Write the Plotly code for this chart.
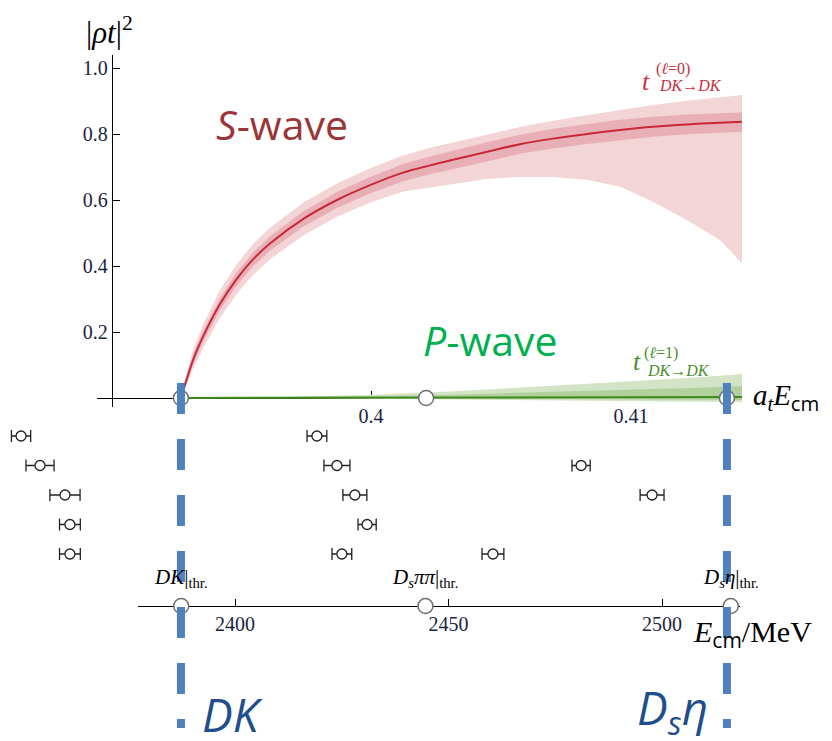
import plotly.graph_objects as go

# ---------------- data ----------------
# S-wave |rho t|^2 vs a_t E_cm
s_x = [0.392692, 0.392808, 0.393154, 0.393538, 0.394192, 0.394846, 0.395462, 0.396115,
       0.397385, 0.398692, 0.399962, 0.401231, 0.402269, 0.403154, 0.404462, 0.405731,
       0.407000, 0.408308, 0.409577, 0.410846, 0.412154, 0.413423, 0.414269]
s_c = [0, 0.03, 0.115, 0.186, 0.285, 0.362, 0.420, 0.468, 0.542, 0.600, 0.645, 0.683,
       0.705, 0.722, 0.746, 0.769, 0.786, 0.800, 0.812, 0.822, 0.829, 0.834, 0.837]
s_out_hi = [0, 0.045, 0.145, 0.222, 0.327, 0.407, 0.467, 0.516, 0.592, 0.650, 0.696, 0.735,
            0.758, 0.775, 0.798, 0.821, 0.840, 0.857, 0.873, 0.888, 0.901, 0.911, 0.918]
s_out_lo = [0, 0.018, 0.088, 0.150, 0.243, 0.317, 0.373, 0.420, 0.492, 0.549, 0.592, 0.626,
            0.640, 0.649, 0.664, 0.670, 0.670, 0.661, 0.640, 0.595, 0.539, 0.479, 0.408]
s_in_hi = [0, 0.037, 0.130, 0.202, 0.303, 0.382, 0.441, 0.490, 0.565, 0.624, 0.670, 0.709,
           0.732, 0.750, 0.775, 0.798, 0.816, 0.830, 0.843, 0.852, 0.859, 0.863, 0.865]
s_in_lo = [0, 0.024, 0.100, 0.170, 0.267, 0.342, 0.399, 0.446, 0.519, 0.576, 0.620, 0.657,
           0.678, 0.694, 0.717, 0.740, 0.756, 0.770, 0.782, 0.792, 0.799, 0.804, 0.807]

# P-wave
p_x = [0.392692, 0.397269, 0.400000, 0.403038, 0.406115, 0.410000, 0.412654, 0.414269]
p_c = [0, 0.0005, 0.001, 0.0015, 0.002, 0.0025, 0.003, 0.003]
p_out_hi = [0, 0.004, 0.010, 0.020, 0.033, 0.050, 0.063, 0.073]
p_out_lo = [0, -0.001, -0.003, -0.005, -0.007, -0.009, -0.011, -0.012]
p_in_hi = [0, 0.002, 0.005, 0.010, 0.016, 0.025, 0.031, 0.036]
p_in_lo = [0, 0, -0.001, -0.002, -0.003, -0.004, -0.005, -0.006]

# thresholds
thr_labels = ["<i>DK</i>|<sub>thr.</sub>", "<i>D<sub>s</sub>ππ</i>|<sub>thr.</sub>", "<i>D<sub>s</sub>η</i>|<sub>thr.</sub>"]
thr_at = [0.39269, 0.40212, 0.41369]
thr_mev = [2387.4, 2444.6, 2516.1]

# finite-volume levels (rows), a_t E and error
lev_row = [1, 1, 2, 2, 2, 3, 3, 3, 4, 4, 5, 5, 5]
lev_x = [0.38654, 0.39792, 0.38727, 0.39869, 0.40808, 0.38823, 0.39938, 0.41081,
         0.38842, 0.39985, 0.38842, 0.39888, 0.40469]
lev_err = [0.00037, 0.00038, 0.00054, 0.00050, 0.00035, 0.00058, 0.00046, 0.00046,
           0.00040, 0.00035, 0.00040, 0.00038, 0.00042]

y_ticks = [0.2, 0.4, 0.6, 0.8, 1.0]
x_ticks = [0.4, 0.41]
mev_ticks = [2400, 2450, 2500]

# ---------------- geometry helpers (pixels -> paper) ----------------
W, H = 832, 741
def px(x):
    return x / W
def py(y):
    return (H - y) / H
def a_of(pxv):
    return 0.4 + (pxv - 371) / 26000.0

SERIF = "Liberation Serif, Times New Roman, serif"
SANS = "Open Sans, sans-serif"
TICKC = "#1c2340"

fig = go.Figure()

def band(x, lo, hi, color, xa="x", ya="y"):
    fig.add_trace(go.Scatter(x=list(x) + list(x)[::-1], y=list(hi) + list(lo)[::-1],
                             fill="toself", fillcolor=color, line=dict(width=0),
                             mode="lines", hoverinfo="skip", showlegend=False,
                             xaxis=xa, yaxis=ya))

band(s_x, s_out_lo, s_out_hi, "#f3d5d8")
band(s_x, s_in_lo, s_in_hi, "#e8b0b6")
fig.add_trace(go.Scatter(x=s_x, y=s_c, mode="lines", line=dict(color="#c8283a", width=2),
                         line_shape="spline", showlegend=False))
band(p_x, p_out_lo, p_out_hi, "#d3e4c6")
band(p_x, p_in_lo, p_in_hi, "#b2d09e")
fig.add_trace(go.Scatter(x=p_x, y=p_c, mode="lines", line=dict(color="#3f8a1f", width=2),
                         showlegend=False))

# threshold circles on top axis
fig.add_trace(go.Scatter(x=thr_at, y=[0, 0, 0], mode="markers", cliponaxis=False,
                         marker=dict(size=15, color="white", line=dict(color="#6e6e6e", width=1.5)),
                         showlegend=False))

# levels
fig.add_trace(go.Scatter(x=lev_x, y=lev_row, mode="markers", xaxis="x3", yaxis="y2",
                         marker=dict(size=10, color="white", line=dict(color="#222", width=1.3)),
                         error_x=dict(type="data", array=lev_err, color="#222", thickness=1.3, width=6),
                         cliponaxis=False, showlegend=False))

# threshold circles on MeV axis
fig.add_trace(go.Scatter(x=thr_mev, y=[0, 0, 0], mode="markers", xaxis="x2", yaxis="y3",
                         cliponaxis=False,
                         marker=dict(size=15, color="white", line=dict(color="#6e6e6e", width=1.5)),
                         showlegend=False))

tickfont = dict(family=SERIF, size=20, color=TICKC)
fig.update_layout(
    width=W, height=H, margin=dict(l=0, r=0, t=0, b=0), autosize=False,
    paper_bgcolor="white", plot_bgcolor="rgba(0,0,0,0)",
    xaxis=dict(domain=[px(97), px(742)], range=[a_of(97), a_of(742)], anchor="free",
               position=py(398), showline=True, linecolor="black", linewidth=1.3,
               ticks="inside", ticklen=7, tickcolor="black", tickvals=x_ticks,
               ticktext=["0.4", "0.41"], tickfont=tickfont, showgrid=False, zeroline=False,
               layer="below traces"),
    yaxis=dict(domain=[py(407), py(55)], range=[(398 - 407) / 330.0, (398 - 55) / 330.0],
               anchor="free", position=px(112), showline=True, linecolor="black",
               linewidth=1.3, ticks="inside", ticklen=7, tickcolor="black",
               tickvals=y_ticks, ticktext=["0.2", "0.4", "0.6", "0.8", "1.0"],
               tickfont=tickfont, showgrid=False, zeroline=False, layer="below traces"),
    xaxis2=dict(domain=[px(138), px(740)], range=[2400 - 97 / 4.27, 2400 + 505 / 4.27],
                anchor="y3", showline=True, linecolor="black", linewidth=1.3,
                ticks="inside", ticklen=7, tickcolor="black", tickvals=mev_ticks,
                tickfont=tickfont, showgrid=False, zeroline=False, layer="below traces"),
    yaxis3=dict(domain=[py(606), py(596)], range=[0, 1], visible=False, anchor="x2"),
    xaxis3=dict(domain=[0, 1], range=[a_of(0), a_of(832)], visible=False, anchor="y2"),
    yaxis2=dict(domain=[py(570), py(420)], range=[1 + 134 / 29.5, 1 - 16 / 29.5],
                visible=False, anchor="x3"),
)

# blue dashed threshold markers
for xv in (thr_at[0], thr_at[2]):
    fig.add_shape(type="line", xref="x", yref="paper", x0=xv, x1=xv, y0=py(383), y1=py(728),
                  line=dict(color="#4f81bd", width=8, dash="31px,25px"))

ann = []
def A(text, x, y, size, color="black", family=SERIF, xanchor="center", yanchor="middle", xref="paper", yref="paper"):
    ann.append(dict(text=text, x=x, y=y, xref=xref, yref=yref, showarrow=False,
                    xanchor=xanchor, yanchor=yanchor,
                    font=dict(size=size, color=color, family=family)))

A("|<i>ρt</i>|<sup>2</sup>", px(109), py(30), 31)
A("<i>a</i><sub><i>t</i></sub><i>E</i><sub><span style='font-family:Open Sans'>cm</span></sub>",
  px(751), py(398), 29, xanchor="left")
A("<i>E</i><sub><span style='font-family:Open Sans'>cm</span></sub>/MeV", px(691), py(634), 30, xanchor="left")

for lab, xm in zip(thr_labels, thr_mev):
    A(lab, xm, py(578), 21, xref="x2")

A("<i>S</i>-wave", px(282), py(124), 41, color="#9c3538", family=SANS)
A("<i>P</i>-wave", px(490), py(340), 41, color="#00b050", family=SANS)
A("<i>DK</i>", px(232), py(714), 46, color="#1f4e8c", family=SANS)
A("<i>D<sub>s</sub>η</i>", px(672), py(710), 46, color="#1f4e8c", family=SANS)

red = "#c8303c"
A("<i>t</i>", px(646), py(81), 26, color=red)
A("(<i>ℓ</i>=0)", px(673), py(69), 16, color=red)
A("<i>DK</i>→<i>DK</i>", px(690), py(86), 16, color=red)
green = "#4d8c2b"
A("<i>t</i>", px(637), py(361), 26, color=green)
A("(<i>ℓ</i>=1)", px(661), py(353), 16, color=green)
A("<i>DK</i>→<i>DK</i>", px(678), py(370), 16, color=green)

fig.update_layout(annotations=ann)
fig.write_html("out.html")
